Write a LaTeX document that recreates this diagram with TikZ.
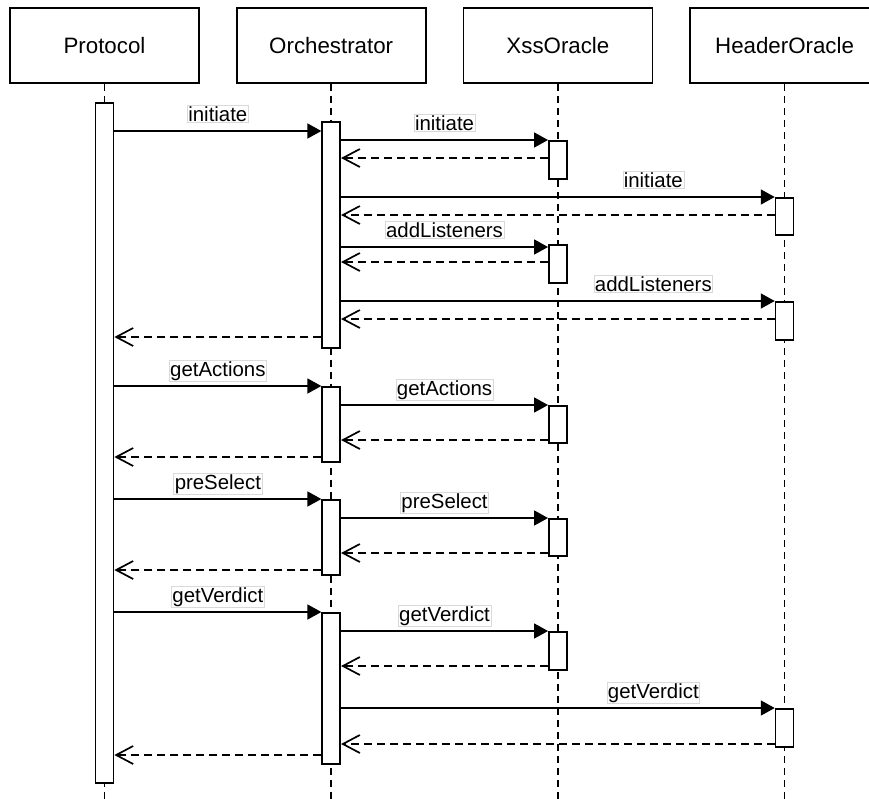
\documentclass[tikz,border=0pt]{standalone}
\usepackage{fontspec}
\setmainfont{Liberation Sans}
\usetikzlibrary{arrows.meta, positioning}
\tikzset{
	lifehead/.style ={rectangle, draw=black, line width=1.7pt, minimum width=189pt, minimum height=75pt, text centered, font=\fontsize{22.3}{26}\selectfont},
	actbar/.style   ={rectangle, draw=black, line width=1.7pt, fill=white, minimum width=18pt, anchor=north, inner sep=0pt},
	lifeline/.style ={line width=1.7pt, dash pattern=on 7pt off 5pt},
	callarrow/.style={-{Triangle[length=14pt, width=15pt]}, line width=1.7pt},
	retarrow/.style ={-{Straight Barb[length=17pt, width=18pt]}, line width=1.7pt, dash pattern=on 8pt off 5pt},
	msglabel/.style ={draw=gray!30, line width=0.6pt, fill=white, inner sep=1pt, anchor=base, yshift=10pt, font=\fontsize{20.4}{24}\selectfont},
}
\begin{document}
\begin{tikzpicture}[x=1pt, y=-1pt]
	\useasboundingbox (0,0) rectangle (869,798);
	\node[lifehead] (prot) at (104.5,45.5) {Protocol};
	\node[lifehead, right=36pt of prot] (orch) {Orchestrator};
	\node[lifehead, right=36pt of orch] (xss) {XssOracle};
	\node[lifehead, right=36pt of xss] (hdr) {HeaderOracle};
	\foreach \n in {prot, orch, xss, hdr}
		\draw[lifeline] (\n.south) -- (\n.south |- 0,800);
	\node[actbar, minimum height=680pt] (pAct) at (prot |- 0,102) {};
	\node[actbar, minimum height=226pt] (oAct1) at (orch |- 0,121) {};
	\node[actbar, minimum height=75pt] (oAct2) at (orch |- 0,386) {};
	\node[actbar, minimum height=75pt] (oAct3) at (orch |- 0,499) {};
	\node[actbar, minimum height=151pt] (oAct4) at (orch |- 0,612) {};
	\node[actbar, minimum height=38pt] (xAct1) at (xss |- 0,140) {};
	\node[actbar, minimum height=38pt] (xAct2) at (xss |- 0,244) {};
	\node[actbar, minimum height=37pt] (xAct3) at (xss |- 0,405) {};
	\node[actbar, minimum height=37pt] (xAct4) at (xss |- 0,518) {};
	\node[actbar, minimum height=38pt] (xAct5) at (xss |- 0,631) {};
	\node[actbar, minimum height=37pt] (hAct1) at (hdr |- 0,197) {};
	\node[actbar, minimum height=38pt] (hAct2) at (hdr |- 0,301) {};
	\node[actbar, minimum height=38pt] (hAct3) at (hdr |- 0,708) {};
	\draw[callarrow] (pAct.east |- 0,131) -- node[msglabel] {initiate} (oAct1.west |- 0,131);
	\draw[callarrow] (oAct1.east |- 0,140) -- node[msglabel] {initiate} (xAct1.west |- 0,140);
	\draw[retarrow] (xAct1.west |- 0,158) -- (oAct1.east |- 0,158);
	\draw[callarrow] (oAct1.east |- 0,197) -- node[msglabel, pos=.72] {initiate} (hAct1.west |- 0,197);
	\draw[retarrow] (hAct1.west |- 0,215) -- (oAct1.east |- 0,215);
	\draw[callarrow] (oAct1.east |- 0,247) -- node[msglabel] {addListeners} (xAct2.west |- 0,247);
	\draw[retarrow] (xAct2.west |- 0,262) -- (oAct1.east |- 0,262);
	\draw[callarrow] (oAct1.east |- 0,301) -- node[msglabel, pos=.72] {addListeners} (hAct2.west |- 0,301);
	\draw[retarrow] (hAct2.west |- 0,319) -- (oAct1.east |- 0,319);
	\draw[retarrow] (oAct1.west |- 0,337) -- (pAct.east |- 0,337);
	\draw[callarrow] (pAct.east |- 0,386) -- node[msglabel] {getActions} (oAct2.west |- 0,386);
	\draw[callarrow] (oAct2.east |- 0,405) -- node[msglabel] {getActions} (xAct3.west |- 0,405);
	\draw[retarrow] (xAct3.west |- 0,440) -- (oAct2.east |- 0,440);
	\draw[retarrow] (oAct2.west |- 0,457) -- (pAct.east |- 0,457);
	\draw[callarrow] (pAct.east |- 0,499) -- node[msglabel] {preSelect} (oAct3.west |- 0,499);
	\draw[callarrow] (oAct3.east |- 0,518) -- node[msglabel] {preSelect} (xAct4.west |- 0,518);
	\draw[retarrow] (xAct4.west |- 0,553) -- (oAct3.east |- 0,553);
	\draw[retarrow] (oAct3.west |- 0,570) -- (pAct.east |- 0,570);
	\draw[callarrow] (pAct.east |- 0,612) -- node[msglabel] {getVerdict} (oAct4.west |- 0,612);
	\draw[callarrow] (oAct4.east |- 0,631) -- node[msglabel] {getVerdict} (xAct5.west |- 0,631);
	\draw[retarrow] (xAct5.west |- 0,666) -- (oAct4.east |- 0,666);
	\draw[callarrow] (oAct4.east |- 0,708) -- node[msglabel, pos=.72] {getVerdict} (hAct3.west |- 0,708);
	\draw[retarrow] (hAct3.west |- 0,744) -- (oAct4.east |- 0,744);
	\draw[retarrow] (oAct4.west |- 0,755) -- (pAct.east |- 0,755);
\end{tikzpicture}
\end{document}
